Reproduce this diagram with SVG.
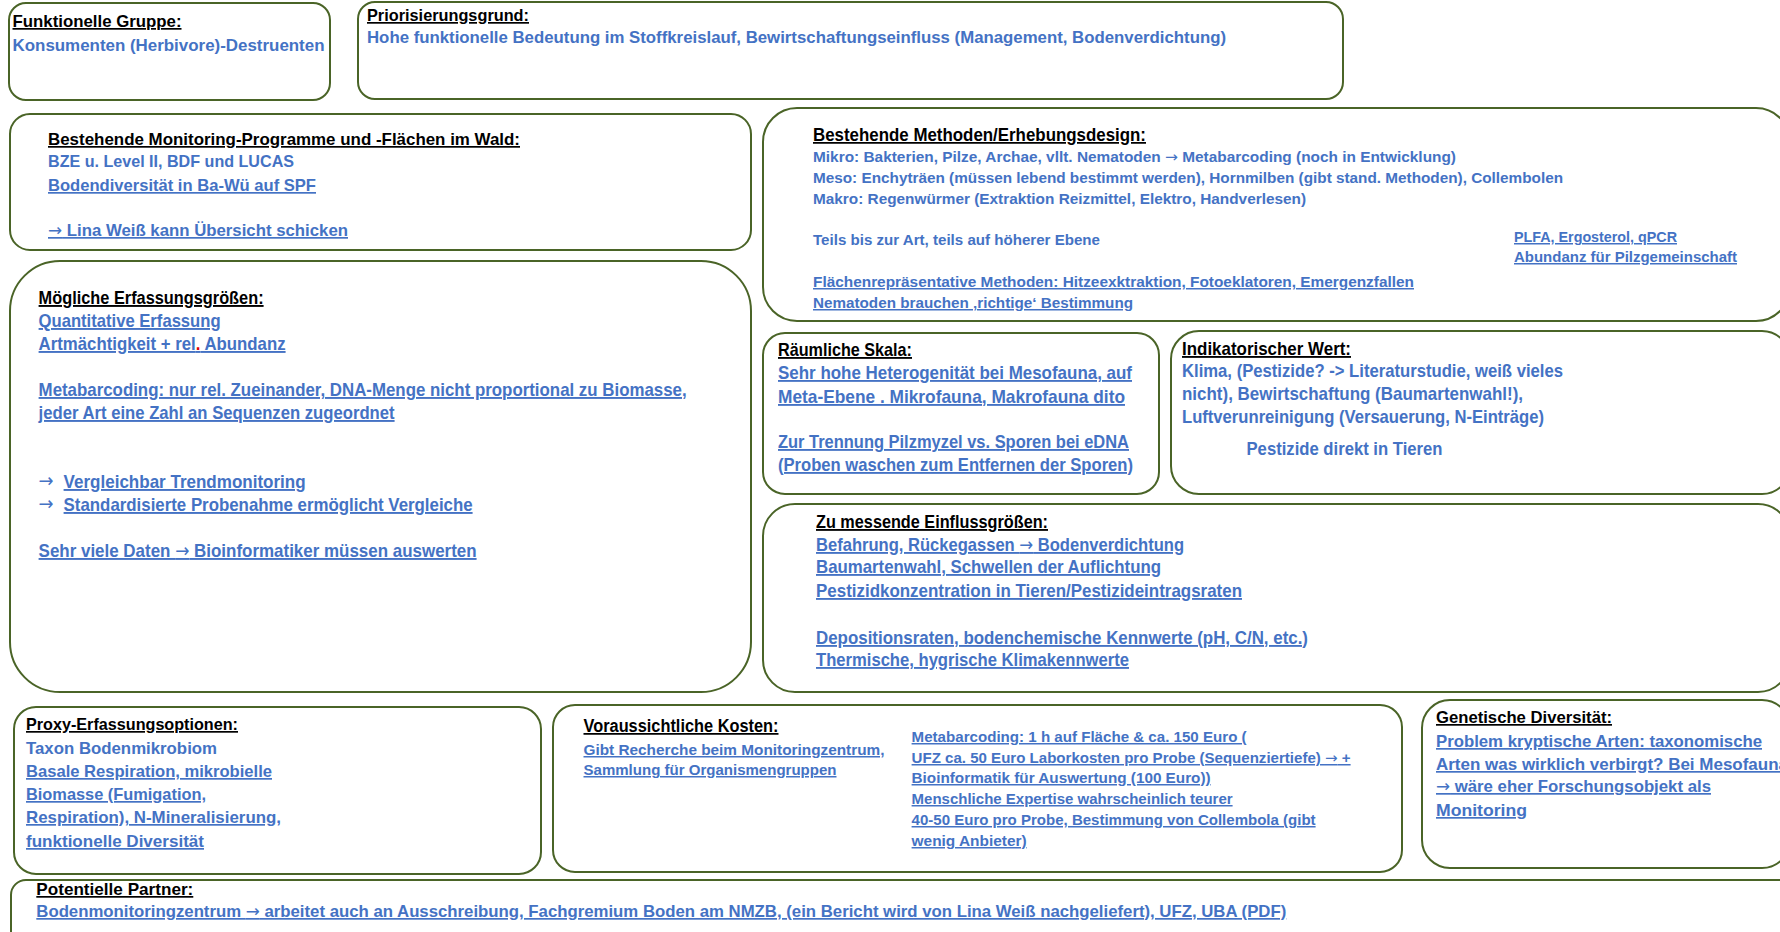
<svg xmlns="http://www.w3.org/2000/svg" width="1780" height="932" viewBox="0 0 1780 932">
<style>
.box{fill:#fff;stroke:#4a6427;stroke-width:2}
text{font-family:"Liberation Sans","Noto Sans",sans-serif;font-weight:bold}
.t{fill:#000;text-decoration:underline}
.b{fill:#4472c4}
.u{fill:#4472c4;text-decoration:underline}
.ar{font-family:"DejaVu Sans",sans-serif;font-weight:normal}
.s17{font-size:17px}
.s15{font-size:15px}
.s18{font-size:18.5px}
.s19{font-size:19px}
</style>
<rect width="1780" height="932" fill="#fff"/>
<g id="connectors"/>

<g id="funktionelle-gruppe" class="s17">
<rect class="box" x="9" y="3" width="321" height="97" rx="17"/>
<text class="t" x="12.5" y="27" textLength="169" lengthAdjust="spacingAndGlyphs">Funktionelle Gruppe:</text>
<text class="b" x="12.5" y="51" textLength="312" lengthAdjust="spacingAndGlyphs">Konsumenten (Herbivore)-Destruenten</text>
</g>

<g id="priorisierungsgrund" class="s17">
<rect class="box" x="358" y="2" width="985" height="97" rx="17"/>
<text class="t" x="367" y="21" textLength="162" lengthAdjust="spacingAndGlyphs">Priorisierungsgrund:</text>
<text class="b" x="367" y="43" textLength="859" lengthAdjust="spacingAndGlyphs">Hohe funktionelle Bedeutung im Stoffkreislauf, Bewirtschaftungseinfluss (Management, Bodenverdichtung)</text>
</g>

<g id="monitoring-programme" class="s17">
<rect class="box" x="10" y="114" width="741" height="136" rx="20"/>
<text class="t" x="48" y="145" textLength="472" lengthAdjust="spacingAndGlyphs">Bestehende Monitoring-Programme und -Flächen im Wald:</text>
<text class="b" x="48" y="167" textLength="246" lengthAdjust="spacingAndGlyphs">BZE u. Level II,  BDF und LUCAS</text>
<text class="u" x="48" y="191" textLength="268" lengthAdjust="spacingAndGlyphs">Bodendiversität in Ba-Wü auf SPF</text>
<text class="u" x="48" y="236" textLength="300" lengthAdjust="spacingAndGlyphs"><tspan class="ar">→</tspan> Lina Weiß kann Übersicht schicken</text>
</g>

<g id="methoden" class="s15">
<rect class="box" x="763" y="108" width="1027" height="213" rx="34"/>
<text class="t" x="813" y="141" textLength="333" lengthAdjust="spacingAndGlyphs" style="font-size:17.5px">Bestehende Methoden/Erhebungsdesign:</text>
<text class="b" x="813" y="162" textLength="643" lengthAdjust="spacingAndGlyphs">Mikro: Bakterien, Pilze, Archae, vllt. Nematoden <tspan class="ar">→</tspan> Metabarcoding (noch in Entwicklung)</text>
<text class="b" x="813" y="183" textLength="750" lengthAdjust="spacingAndGlyphs">Meso: Enchyträen (müssen lebend bestimmt werden), Hornmilben (gibt stand. Methoden), Collembolen</text>
<text class="b" x="813" y="204" textLength="493" lengthAdjust="spacingAndGlyphs">Makro: Regenwürmer (Extraktion Reizmittel, Elektro, Handverlesen)</text>
<text class="b" x="813" y="245" textLength="287" lengthAdjust="spacingAndGlyphs">Teils bis zur Art, teils auf höherer Ebene</text>
<text class="u" x="813" y="287" textLength="601" lengthAdjust="spacingAndGlyphs">Flächenrepräsentative Methoden: Hitzeexktraktion, Fotoeklatoren, Emergenzfallen</text>
<text class="u" x="813" y="308" textLength="320" lengthAdjust="spacingAndGlyphs">Nematoden brauchen ‚richtige‘ Bestimmung</text>
<text class="u" x="1514" y="242" textLength="163" lengthAdjust="spacingAndGlyphs">PLFA, Ergosterol, qPCR</text>
<text class="u" x="1514" y="262" textLength="223" lengthAdjust="spacingAndGlyphs">Abundanz für Pilzgemeinschaft</text>
</g>

<g id="erfassungsgroessen" class="s19">
<rect class="box" x="10" y="261" width="741" height="431" rx="50"/>
<text class="t" x="38.6" y="304" textLength="225" lengthAdjust="spacingAndGlyphs">Mögliche Erfassungsgrößen:</text>
<text class="u" x="38.6" y="327" textLength="182" lengthAdjust="spacingAndGlyphs">Quantitative Erfassung</text>
<text class="u" x="38.6" y="350" textLength="247" lengthAdjust="spacingAndGlyphs">Artmächtigkeit + rel<tspan fill="#e00000">.</tspan> Abundanz</text>
<text class="u" x="38.6" y="396" textLength="648" lengthAdjust="spacingAndGlyphs">Metabarcoding: nur rel. Zueinander, DNA-Menge nicht proportional zu Biomasse,</text>
<text class="u" x="38.6" y="419" textLength="356" lengthAdjust="spacingAndGlyphs">jeder Art eine Zahl an Sequenzen zugeordnet</text>
<text class="b ar" x="38.6" y="487" textLength="15" lengthAdjust="spacingAndGlyphs">→</text>
<text class="u" x="63.6" y="488" textLength="242" lengthAdjust="spacingAndGlyphs">Vergleichbar Trendmonitoring</text>
<text class="b ar" x="38.6" y="510" textLength="15" lengthAdjust="spacingAndGlyphs">→</text>
<text class="u" x="63.6" y="511" textLength="409" lengthAdjust="spacingAndGlyphs">Standardisierte Probenahme ermöglicht Vergleiche</text>
<text class="u" x="38.6" y="557" textLength="438" lengthAdjust="spacingAndGlyphs">Sehr viele Daten <tspan class="ar">→</tspan> Bioinformatiker müssen auswerten</text>
</g>

<g id="raeumliche-skala" class="s18">
<rect class="box" x="763" y="333" width="396" height="161" rx="22"/>
<text class="t" x="778" y="356" textLength="134" lengthAdjust="spacingAndGlyphs">Räumliche Skala:</text>
<text class="u" x="778" y="379" textLength="354" lengthAdjust="spacingAndGlyphs">Sehr hohe Heterogenität bei Mesofauna, auf</text>
<text class="u" x="778" y="403" textLength="347" lengthAdjust="spacingAndGlyphs">Meta-Ebene . Mikrofauna, Makrofauna dito</text>
<text class="u" x="778" y="448" textLength="351" lengthAdjust="spacingAndGlyphs">Zur Trennung Pilzmyzel vs. Sporen bei eDNA</text>
<text class="u" x="778" y="471" textLength="355" lengthAdjust="spacingAndGlyphs">(Proben waschen zum Entfernen der Sporen)</text>
</g>

<g id="indikatorischer-wert" class="s18">
<rect class="box" x="1171" y="331" width="619" height="163" rx="28"/>
<text class="t" x="1182" y="355" textLength="169" lengthAdjust="spacingAndGlyphs">Indikatorischer Wert:</text>
<text class="b" x="1182" y="377" textLength="381" lengthAdjust="spacingAndGlyphs">Klima, (Pestizide? -&gt; Literaturstudie, weiß vieles</text>
<text class="b" x="1182" y="400" textLength="341" lengthAdjust="spacingAndGlyphs">nicht), Bewirtschaftung (Baumartenwahl!),</text>
<text class="b" x="1182" y="423" textLength="362" lengthAdjust="spacingAndGlyphs">Luftverunreinigung (Versauerung, N-Einträge)</text>
<text class="b" x="1246.5" y="455" textLength="196" lengthAdjust="spacingAndGlyphs">Pestizide direkt in Tieren</text>
</g>

<g id="einflussgroessen" class="s18">
<rect class="box" x="763" y="504" width="1027" height="188" rx="32"/>
<text class="t" x="816" y="528" textLength="232" lengthAdjust="spacingAndGlyphs">Zu messende Einflussgrößen:</text>
<text class="u" x="816" y="551" textLength="368" lengthAdjust="spacingAndGlyphs">Befahrung, Rückegassen <tspan class="ar">→</tspan> Bodenverdichtung</text>
<text class="u" x="816" y="573" textLength="345" lengthAdjust="spacingAndGlyphs">Baumartenwahl, Schwellen der Auflichtung</text>
<text class="u" x="816" y="597" textLength="426" lengthAdjust="spacingAndGlyphs">Pestizidkonzentration in Tieren/Pestizideintragsraten</text>
<text class="u" x="816" y="644" textLength="492" lengthAdjust="spacingAndGlyphs">Depositionsraten, bodenchemische Kennwerte (pH, C/N, etc.)</text>
<text class="u" x="816" y="666" textLength="313" lengthAdjust="spacingAndGlyphs">Thermische, hygrische Klimakennwerte</text>
</g>

<g id="proxy" class="s17">
<rect class="box" x="14" y="707" width="527" height="167" rx="22"/>
<text class="t" x="26" y="730" textLength="212" lengthAdjust="spacingAndGlyphs">Proxy-Erfassungsoptionen:</text>
<text class="b" x="26" y="754" textLength="191" lengthAdjust="spacingAndGlyphs">Taxon Bodenmikrobiom</text>
<text class="u" x="26" y="777" textLength="246" lengthAdjust="spacingAndGlyphs">Basale Respiration, mikrobielle</text>
<text class="u" x="26" y="800" textLength="180" lengthAdjust="spacingAndGlyphs">Biomasse (Fumigation,</text>
<text class="u" x="26" y="823" textLength="255" lengthAdjust="spacingAndGlyphs">Respiration), N-Mineralisierung,</text>
<text class="u" x="26" y="847" textLength="178" lengthAdjust="spacingAndGlyphs">funktionelle Diversität</text>
</g>

<g id="kosten" class="s15">
<rect class="box" x="553" y="705" width="849" height="167" rx="22"/>
<text class="t" x="583.5" y="732" textLength="195" lengthAdjust="spacingAndGlyphs" style="font-size:17.5px">Voraussichtliche Kosten:</text>
<text class="u" x="583.5" y="755" textLength="301" lengthAdjust="spacingAndGlyphs">Gibt Recherche beim Monitoringzentrum,</text>
<text class="u" x="583.5" y="775" textLength="253" lengthAdjust="spacingAndGlyphs">Sammlung für Organismengruppen</text>
<text class="u" x="911.6" y="742" textLength="335" lengthAdjust="spacingAndGlyphs">Metabarcoding: 1 h auf Fläche &amp; ca. 150 Euro (</text>
<text class="u" x="911.6" y="763" textLength="439" lengthAdjust="spacingAndGlyphs">UFZ ca. 50 Euro Laborkosten pro Probe (Sequenziertiefe) <tspan class="ar">→</tspan> +</text>
<text class="u" x="911.6" y="783" textLength="299" lengthAdjust="spacingAndGlyphs">Bioinformatik für Auswertung (100 Euro))</text>
<text class="u" x="911.6" y="804" textLength="321" lengthAdjust="spacingAndGlyphs">Menschliche Expertise wahrscheinlich teurer</text>
<text class="u" x="911.6" y="825" textLength="404" lengthAdjust="spacingAndGlyphs">40-50 Euro pro Probe, Bestimmung von Collembola (gibt</text>
<text class="u" x="911.6" y="846" textLength="115" lengthAdjust="spacingAndGlyphs">wenig Anbieter)</text>
</g>

<g id="genetische-diversitaet" class="s17">
<rect class="box" x="1422" y="700" width="368" height="168" rx="28"/>
<text class="t" x="1436" y="723" textLength="176" lengthAdjust="spacingAndGlyphs">Genetische Diversität:</text>
<text class="u" x="1436" y="747" textLength="326" lengthAdjust="spacingAndGlyphs">Problem kryptische Arten: taxonomische</text>
<text class="u" x="1436" y="770" textLength="352" lengthAdjust="spacingAndGlyphs">Arten was wirklich verbirgt? Bei Mesofauna</text>
<text class="u" x="1436" y="792" textLength="275" lengthAdjust="spacingAndGlyphs"><tspan class="ar">→</tspan> wäre eher Forschungsobjekt als</text>
<text class="u" x="1436" y="816" textLength="91" lengthAdjust="spacingAndGlyphs">Monitoring</text>
</g>

<g id="potentielle-partner" class="s17">
<rect class="box" x="11" y="880" width="1790" height="80" rx="15"/>
<text class="t" x="36.3" y="895" textLength="157" lengthAdjust="spacingAndGlyphs">Potentielle Partner:</text>
<text class="u" x="36.3" y="917" textLength="1250" lengthAdjust="spacingAndGlyphs">Bodenmonitoringzentrum <tspan class="ar">→</tspan> arbeitet auch an Ausschreibung, Fachgremium Boden am NMZB, (ein Bericht wird von Lina Weiß nachgeliefert), UFZ, UBA (PDF)</text>
</g>
</svg>
